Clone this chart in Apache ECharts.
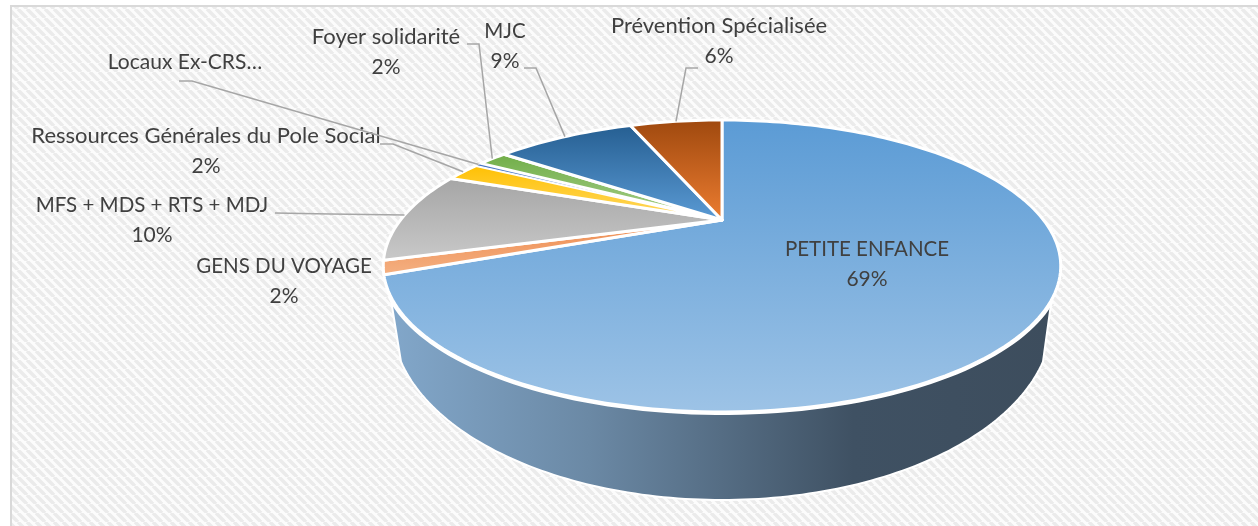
<!DOCTYPE html>
<html>
<head>
<meta charset="utf-8">
<style>html,body{margin:0;padding:0;background:#fff}#chart{width:1258px;height:526px}</style>
<script src="https://cdn.jsdelivr.net/npm/echarts@6/dist/echarts.min.js"></script>
</head>
<body>
<div id="chart"></div>
<script>
var categories = ['PETITE ENFANCE', 'GENS DU VOYAGE', 'MFS + MDS + RTS + MDJ', 'Ressources Générales du Pole Social', 'Locaux Ex-CRS…', 'Foyer solidarité', 'MJC', 'Prévention Spécialisée'];
var values = [69, 1.5, 10.2, 2.2, 0.4, 1.8, 8.9, 6];
var percentShown = [true, true, true, true, false, true, true, true];

// label centre x, first line y, font size, and the leader line's points on the label side
var labelX = [867, 284, 152, 206, 185, 386, 505, 719];
var labelY = [249, 266, 205, 136, 62, 37, 31, 26];
var labelSize = [20.5, 20.5, 20.5, 22, 21, 22, 20.5, 22];
var leaderPts = [
  null,
  null,
  [[275, 213], [330, 214]],
  [[380, 144], [393, 144]],
  [[179, 81], [192, 81]],
  [[467, 44], [479, 44]],
  [[524, 68], [536, 68]],
  [[698, 68], [686, 68]]
];
var sliceColors = [
  ['#5b9bd5', '#9dc3e6'],
  ['#ee8a4e', '#f4b183'],
  ['#a5a5a5', '#c9c9c9'],
  ['#ffc000', '#ffd966'],
  ['#4472c4', '#b4c7e7'],
  ['#70ad47', '#a9d18e'],
  ['#255e91', '#5b9bd5'],
  ['#9e480e', '#ed7d31']
];

// perspective of the tilted disc: unit circle -> screen
var apexX = 722, apexY = 220;
var persp = -0.315, yScale = 62.2, xScale = 321.5;
var wallLeft = 0.669, wallRight = 0.335;
function project(u, v) {
  var d = 1 + persp * v;
  return [apexX + xScale * u / d, (yScale * v + apexY) / d];
}
function rimPoint(frac) {
  var a = frac * Math.PI * 2;
  return project(Math.sin(a), -Math.cos(a));
}

var total = values.reduce(function (s, v) { return s + v; }, 0);
var starts = [];
values.reduce(function (s, v, i) { starts[i] = s; return s + v; }, 0);

function frontRim() {
  var pts = [];
  for (var i = 0; i <= 80; i++) {
    pts.push(rimPoint(wallRight + (wallLeft - wallRight) * i / 80));
  }
  return pts;
}

function wallPoints() {
  // thick side of the disc, lower edge is its own ellipse
  var pts = [rimPoint(wallLeft)];
  var cx = 722, cy = 320, rx = 330, ry = 180, tangent = 0.234;
  for (var i = 0; i <= 120; i++) {
    var a = Math.PI - tangent - (Math.PI - 2 * tangent) * i / 120;
    pts.push([cx + rx * Math.cos(a), cy + ry * Math.sin(a)]);
  }
  return pts.concat(frontRim());
}

function stripeCanvas() {
  var c = document.createElement('canvas');
  c.width = 9; c.height = 9;
  var g = c.getContext('2d');
  g.fillStyle = '#fcfcfc';
  g.fillRect(0, 0, 9, 9);
  g.strokeStyle = '#ebebeb';
  g.lineWidth = 3.5;
  [-9, 0, 9].forEach(function (o) {
    g.beginPath();
    g.moveTo(o, 0);
    g.lineTo(o + 9, 9);
    g.stroke();
  });
  return c;
}

function labelText(text, x, y, size) {
  return {
    type: 'text',
    style: { text: text, x: x, y: y, fontFamily: 'Lato', fontSize: size, fill: '#404040', align: 'center', verticalAlign: 'middle' }
  };
}

function renderSlice(params, api) {
  var i = params.dataIndex;
  var from = starts[i] / total, to = (starts[i] + values[i]) / total;
  var steps = Math.max(6, Math.round((to - from) * 240));
  var pts = [project(0, 0)];
  for (var k = 0; k <= steps; k++) {
    pts.push(rimPoint(from + (to - from) * k / steps));
  }
  var kids = [];
  if (i === 0) {
    kids.push({
      type: 'polygon',
      shape: { points: wallPoints() },
      style: {
        fill: { type: 'linear', x: 0, y: 0, x2: 1, y2: 0, colorStops: [
          { offset: 0, color: '#82a7ca' },
          { offset: 0.3, color: '#6b89a5' },
          { offset: 0.7, color: '#3f5163' },
          { offset: 1, color: '#3d4d5d' }
        ] },
        stroke: '#fff', lineWidth: 2, lineJoin: 'round'
      }
    });
    kids.push({
      type: 'polyline',
      shape: { points: frontRim() },
      style: { fill: 'none', stroke: '#fff', lineWidth: 6 }
    });
  }
  kids.push({
    type: 'polygon',
    shape: { points: pts },
    style: {
      fill: { type: 'linear', x: 0, y: 0, x2: 0, y2: 1, colorStops: [
        { offset: 0, color: sliceColors[i][0] },
        { offset: 1, color: sliceColors[i][1] }
      ] },
      stroke: '#fff', lineWidth: i === 4 ? 1 : 3, lineJoin: 'round'
    }
  });
  return { type: 'group', children: kids };
}

function renderLabel(params, api) {
  var i = params.dataIndex;
  var kids = [];
  if (leaderPts[i]) {
    var end = rimPoint((starts[i] + values[i] / 2) / total);
    kids.push({
      type: 'polyline',
      shape: { points: leaderPts[i].concat([end]) },
      style: { fill: 'none', stroke: '#a6a6a6', lineWidth: 1.5 }
    });
  }
  kids.push(labelText(categories[i], labelX[i], labelY[i], labelSize[i]));
  if (percentShown[i]) {
    kids.push(labelText(Math.round(values[i]) + '%', labelX[i], labelY[i] + 30, 21));
  }
  return { type: 'group', children: kids };
}

var chart = echarts.init(document.getElementById('chart'));
var rows = categories.map(function (c, i) { return { name: c, value: values[i] }; });
chart.setOption({
  animation: false,
  graphic: [{
    type: 'rect',
    z: -10,
    shape: { x: 11, y: 6, width: 1300, height: 600 },
    style: { fill: { image: stripeCanvas(), repeat: 'repeat' }, stroke: '#d9d9d9', lineWidth: 2 }
  }],
  series: [
    { type: 'custom', coordinateSystem: 'none', renderItem: renderSlice, data: rows, z: 2 },
    { type: 'custom', coordinateSystem: 'none', renderItem: renderLabel, data: rows, z: 3 }
  ]
});
window.addEventListener('resize', function () { chart.resize(); });
</script>
</body>
</html>
